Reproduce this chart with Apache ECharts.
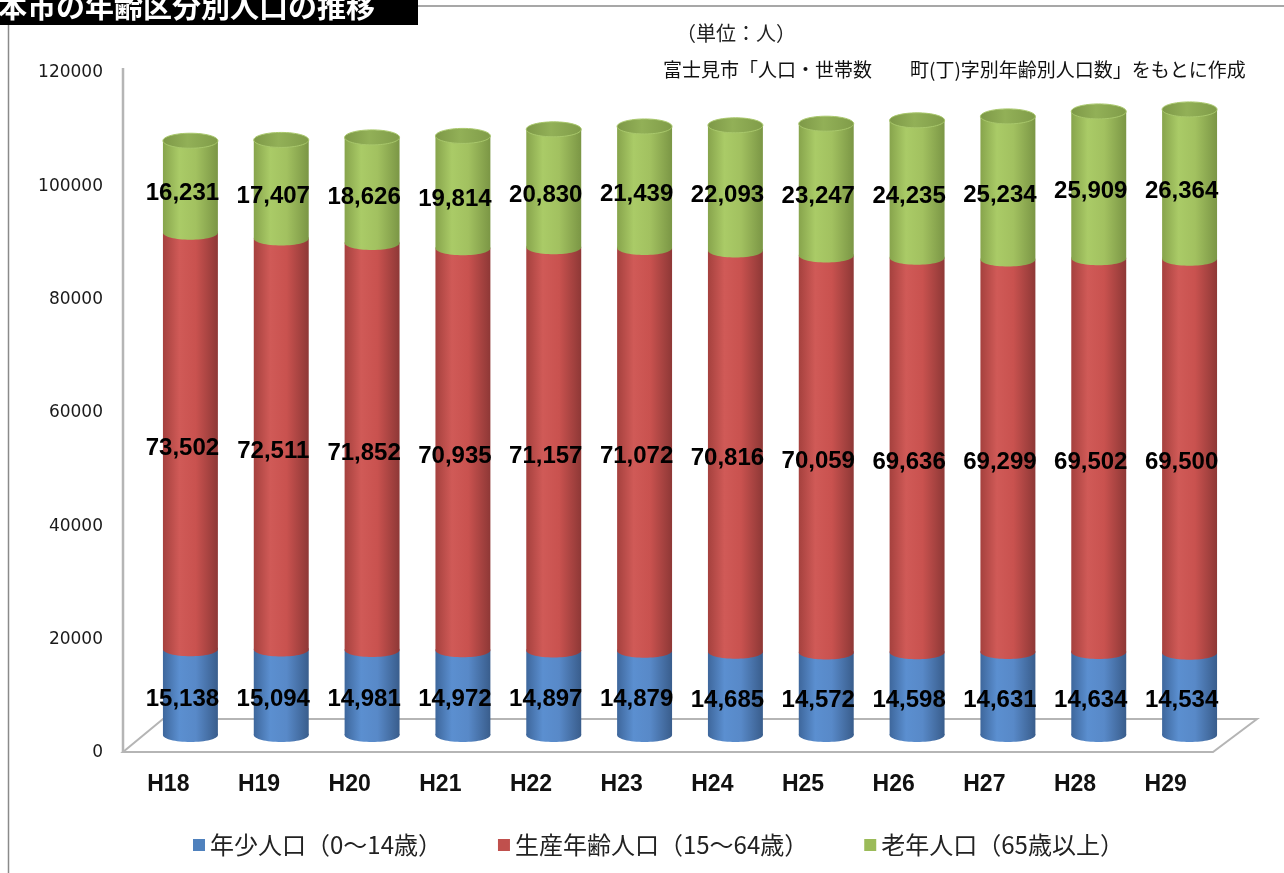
<!DOCTYPE html>
<html>
<head>
<meta charset="utf-8">
<title>本市の年齢区分別人口の推移</title>
<script src="https://cdn.jsdelivr.net/npm/echarts@6/dist/echarts.min.js"></script>
<style>
  html, body { margin: 0; padding: 0; background: #ffffff; }
  #chart { width: 1284px; height: 873px; }
</style>
</head>
<body>
<div id="chart"></div>
<script>
// Fiscal years (Heisei) on the category axis
const categories = ['H18', 'H19', 'H20', 'H21', 'H22', 'H23', 'H24', 'H25', 'H26', 'H27', 'H28', 'H29'];

// Population by age group (persons)
const youth   = [15138, 15094, 14981, 14972, 14897, 14879, 14685, 14572, 14598, 14631, 14634, 14534];
const working = [73502, 72511, 71852, 70935, 71157, 71072, 70816, 70059, 69636, 69299, 69502, 69500];
const elderly = [16231, 17407, 18626, 19814, 20830, 21439, 22093, 23247, 24235, 25234, 25909, 26364];

const seriesNames = ['年少人口（0～14歳）', '生産年齢人口（15～64歳）', '老年人口（65歳以上）'];

// Value axis
const yMin = 0;
const yMax = 120000;
const yStep = 20000;

// Cylinder shading: horizontal gradients for each age group
const palette = [
  { base: '#4f81bd', stops: ['#3e679c', '#5b8fd0', '#5889c8', '#395d8c'] },
  { base: '#c0504d', stops: ['#a5413e', '#d05a57', '#c9524f', '#8e3836'] },
  { base: '#9bbb59', stops: ['#87a44c', '#aacb67', '#a2c160', '#7b9645'] }
];
const capFill = {
  type: 'linear', x: 0, y: 0, x2: 1, y2: 0,
  colorStops: [
    { offset: 0, color: '#7d9847' },
    { offset: 0.45, color: '#92b057' },
    { offset: 1, color: '#809c49' }
  ]
};

function bodyFill(idx) {
  const s = palette[idx].stops;
  return {
    type: 'linear', x: 0, y: 0, x2: 1, y2: 0,
    colorStops: [
      { offset: 0, color: s[0] },
      { offset: 0.3, color: s[1] },
      { offset: 0.6, color: s[2] },
      { offset: 1, color: s[3] }
    ]
  };
}

const layers = [youth, working, elderly];

// Stacked ranges [categoryIndex, start, end, value] for each layer
function stackedData(layerIdx) {
  return categories.map(function (c, i) {
    let start = 0;
    for (let k = 0; k < layerIdx; k++) start += layers[k][i];
    const v = layers[layerIdx][i];
    return [i, start, start + v, v];
  });
}

const ELLIPSE_RY = 7;

function cylinderSeries(layerIdx) {
  const isTop = layerIdx === layers.length - 1;
  return {
    type: 'custom',
    name: seriesNames[layerIdx],
    xAxisIndex: 0,
    yAxisIndex: 0,
    itemStyle: { color: palette[layerIdx].base },
    encode: { x: 0, y: [1, 2] },
    data: stackedData(layerIdx),
    renderItem: function (params, api) {
      const idx = api.value(0);
      const lo = api.coord([idx, api.value(1)]);
      const hi = api.coord([idx, api.value(2)]);
      const band = api.size([1, 0])[0];
      const w = band * 0.605;
      const cx = lo[0];
      const fill = bodyFill(layerIdx);
      const children = [
        {
          type: 'rect',
          shape: { x: cx - w / 2, y: hi[1], width: w, height: lo[1] - hi[1] },
          style: { fill: fill },
          z2: layerIdx * 10
        },
        {
          type: 'ellipse',
          shape: { cx: cx, cy: lo[1], rx: w / 2, ry: ELLIPSE_RY },
          style: { fill: fill },
          z2: layerIdx * 10
        }
      ];
      if (isTop) {
        children.push({
          type: 'ellipse',
          shape: { cx: cx, cy: hi[1], rx: w / 2, ry: ELLIPSE_RY + 0.5 },
          style: { fill: capFill, stroke: '#a9c86c', lineWidth: 1 },
          z2: layerIdx * 10 + 1
        });
      }
      children.push({
        type: 'text',
        style: {
          text: api.value(3).toLocaleString('en-US'),
          x: cx - 8,
          y: (lo[1] + hi[1]) / 2 + 7,
          align: 'center',
          verticalAlign: 'middle',
          fill: '#000000',
          font: 'bold 24px "Liberation Sans", Arial, sans-serif'
        },
        z2: 100
      });
      return { type: 'group', children: children };
    }
  };
}

const chart = echarts.init(document.getElementById('chart'), null, { renderer: 'canvas' });

const option = {
  backgroundColor: '#ffffff',
  animation: false,
  grid: [
    // plotting area for the cylinders
    { left: 145, top: 55, width: 1090, height: 680 },
    // front plane carrying the axis labels
    { left: 123, top: 73, width: 1088, height: 680 }
  ],
  xAxis: [
    {
      gridIndex: 0, type: 'category', data: categories, boundaryGap: true,
      axisLine: { show: false }, axisTick: { show: false }, axisLabel: { show: false }
    },
    {
      gridIndex: 1, type: 'category', data: categories, boundaryGap: true,
      axisLine: { show: false }, axisTick: { show: false },
      axisLabel: {
        margin: 20,
        color: '#111111',
        fontFamily: '"Liberation Sans", Arial, sans-serif',
        fontWeight: 'bold',
        fontSize: 23
      }
    }
  ],
  yAxis: [
    {
      gridIndex: 0, type: 'value', min: yMin, max: yMax, interval: yStep,
      axisLine: { show: false }, axisTick: { show: false },
      axisLabel: { show: false }, splitLine: { show: false }
    },
    {
      gridIndex: 1, type: 'value', min: yMin, max: yMax, interval: yStep,
      axisLine: { show: false }, axisTick: { show: false }, splitLine: { show: false },
      axisLabel: {
        margin: 20,
        color: '#1a1a1a',
        fontFamily: '"DejaVu Sans", Verdana, sans-serif',
        fontSize: 17,
        formatter: function (v) { return String(v); }
      }
    }
  ],
  legend: {
    left: 188,
    top: 828,
    itemWidth: 12,
    itemHeight: 12,
    itemGap: 56,
    icon: 'rect',
    selectedMode: false,
    textStyle: {
      fontFamily: '"Noto Sans CJK JP", sans-serif',
      fontSize: 24,
      color: '#222222'
    },
    data: seriesNames
  },
  graphic: [
    // title bar
    {
      type: 'rect', left: 0, top: 0, z: 10,
      shape: { x: 0, y: 0, width: 418, height: 25 },
      style: { fill: '#000000' }
    },
    {
      type: 'text', z: 11,
      style: {
        text: '本市の年齢区分別人口の推移',
        x: -2, y: 21,
        verticalAlign: 'bottom',
        fill: '#ffffff',
        font: 'bold 29px "Noto Sans CJK JP", sans-serif'
      }
    },
    {
      type: 'line', z: 1,
      shape: { x1: 418, y1: 6, x2: 1284, y2: 6 },
      style: { stroke: '#8a8a8a', lineWidth: 1.5 }
    },
    {
      type: 'line', z: 1,
      shape: { x1: 8.5, y1: 25, x2: 8.5, y2: 873 },
      style: { stroke: '#8a8a8a', lineWidth: 1.5 }
    },
    // unit and source notes
    {
      type: 'text', z: 1,
      style: {
        text: '（単位：人）',
        x: 676, y: 33,
        verticalAlign: 'middle',
        fill: '#222222',
        font: '20px "Noto Sans CJK JP", sans-serif'
      }
    },
    {
      type: 'text', z: 1,
      style: {
        text: '富士見市「人口・世帯数　　町(丁)字別年齢別人口数」をもとに作成',
        x: 663, y: 70,
        verticalAlign: 'middle',
        fill: '#111111',
        font: '19px "Noto Sans CJK JP", sans-serif'
      }
    },
    // floor of the 3D plot and the wall edge
    {
      type: 'polygon', z: 0,
      shape: { points: [[123, 752], [163, 719], [1257, 719], [1213, 752]] },
      style: { fill: '#ffffff', stroke: '#b5b5b5', lineWidth: 2 }
    },
    {
      type: 'line', z: 0,
      shape: { x1: 123, y1: 68, x2: 123, y2: 752 },
      style: { stroke: '#b5b5b5', lineWidth: 2.5 }
    }
  ],
  series: [cylinderSeries(0), cylinderSeries(1), cylinderSeries(2)]
};

chart.setOption(option);
</script>
</body>
</html>
